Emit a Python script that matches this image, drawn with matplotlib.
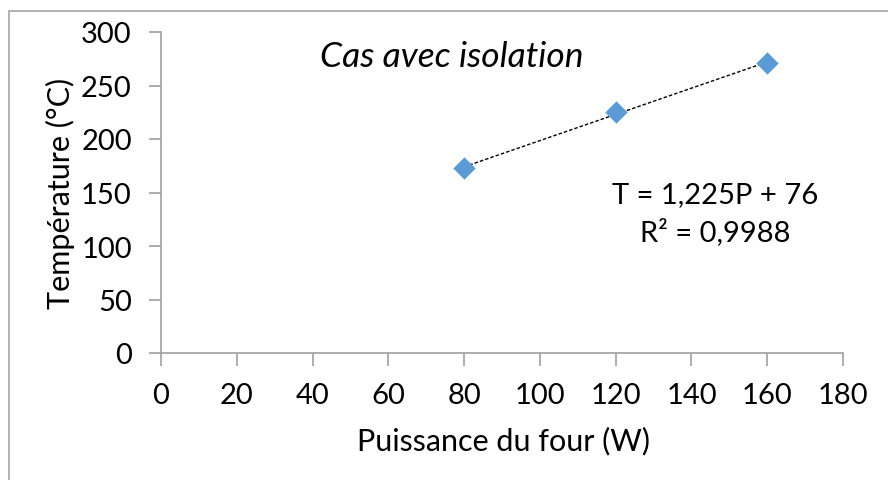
import matplotlib.pyplot as plt
from matplotlib.patches import Rectangle
import numpy as np

# Mesures : puissance du four et température atteinte
puissance = [80, 120, 160]
temperature = [173, 225, 271]

x_ticks = [0, 20, 40, 60, 80, 100, 120, 140, 160, 180]
y_ticks = [0, 50, 100, 150, 200, 250, 300]

plt.rcParams['font.family'] = ['Lato', 'DejaVu Sans']

fig = plt.figure(figsize=(8.88, 4.81), dpi=100)
ax = fig.add_axes([161 / 888, 1 - 354 / 481, (843 - 161) / 888, (354 - 33) / 481])

# cadre gris du graphique
fig.patches.append(Rectangle((9 / 888, -0.1), 1.2, 1 - 12 / 481 + 0.1,
                             transform=fig.transFigure, fill=False,
                             edgecolor='#a6a6a6', linewidth=1.2))

# régression linéaire
p = np.array(puissance, dtype=float)
t = np.array(temperature, dtype=float)
a, b = np.polyfit(p, t, 1)
r2 = 1 - np.sum((t - (a * p + b)) ** 2) / np.sum((t - t.mean()) ** 2)

ax.plot(p, a * p + b, color='black', linestyle=(0, (2.5, 1.5)), linewidth=1.0, zorder=2)
ax.scatter(puissance, temperature, marker='D', s=130, color='#5b9bd5', zorder=3,
           linewidths=0)

ax.set_xlim(0, 180)
ax.set_ylim(0, 300)
ax.set_xticks(x_ticks)
ax.set_yticks(y_ticks)
ax.tick_params(labelsize=21, length=9, color='#a0a0a0', width=1.2, pad=12)
for side in ['top', 'right']:
    ax.spines[side].set_visible(False)
for side in ['left', 'bottom']:
    ax.spines[side].set_color('#a0a0a0')
    ax.spines[side].set_linewidth(1.2)

fig.text(503 / 888, 1 - 441 / 481, 'Puissance du four (W)', fontsize=22,
         ha='center', va='center')
fig.text(60 / 888, 1 - 193 / 481, 'Température (°C)', fontsize=22,
         ha='center', va='center', rotation=90)

fig.text(452 / 888, 1 - 57 / 481, 'Cas avec isolation', fontsize=25.5,
         style='italic', ha='center', va='center')
eq = f'T = {a:.3f}P + {b:.0f}'.replace('.', ',')
fig.text(715 / 888, 1 - 214 / 481, eq + '\n' + f'R² = {r2:.4f}'.replace('.', ','),
         fontsize=21, ha='center', va='center', linespacing=1.45)

fig.savefig('out.png', dpi=100)
